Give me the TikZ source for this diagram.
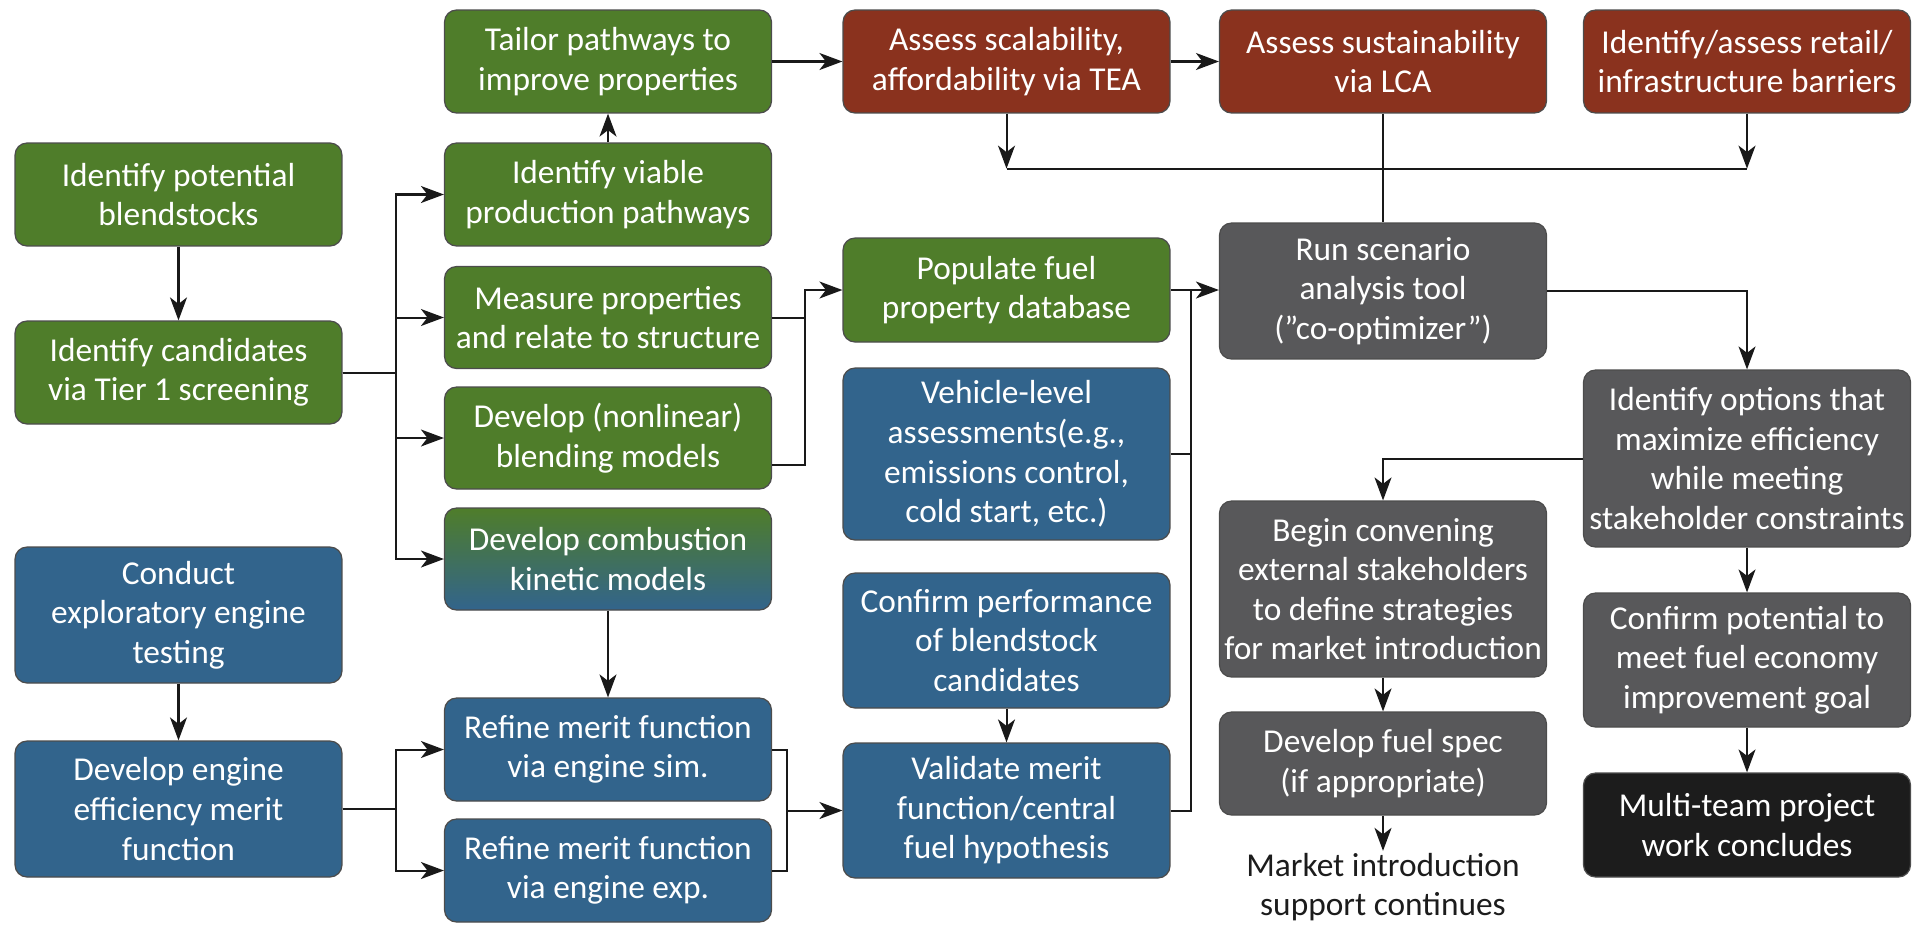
\documentclass[tikz,border=0pt]{standalone}
\usepackage{fontspec}
\setmainfont{Carlito}
\usetikzlibrary{arrows.meta,positioning}
\definecolor{fgreen}{RGB}{79,125,42}
\definecolor{fred}{RGB}{138,50,30}
\definecolor{fblue}{RGB}{50,100,140}
\definecolor{fgray}{RGB}{88,88,90}
\definecolor{fblack}{RGB}{28,28,28}
\tikzset{
  box/.style={draw=black!70, line width=0.7pt, rounded corners=0.24cm,
    minimum width=6.54cm, align=center, text=white, inner sep=1pt,
    font=\fontsize{19}{22.5}\selectfont},
  gbox/.style={box, fill=fgreen},
  rbox/.style={box, fill=fred},
  bbox/.style={box, fill=fblue},
  kbox/.style={box, fill=fgray},
  dbox/.style={box, fill=fblack},
  link/.style={line width=1.15pt, draw=black!90},
  arr/.style={link, -{Stealth[length=0.46cm, width=0.34cm, inset=0.13cm]}}
}
\begin{document}
\begin{tikzpicture}[x=0.02cm, y=-0.02cm]
\useasboundingbox (0,0) rectangle (1915,924);

\node[gbox, minimum height=2.06cm] (pot) at (178.5,194.5) {Identify potential\\blendstocks};
\node[gbox, minimum height=2.06cm] (cand) at (178.5,372.5) {Identify candidates\\via Tier 1 screening};
\node[bbox, minimum height=2.72cm] (conduct) at (178.5,615) {Conduct\\exploratory engine\\testing};
\node[bbox, minimum height=2.72cm] (engine) at (178.5,809) {Develop engine\\efficiency merit\\function};

\node[gbox, minimum height=2.06cm] (tailor) at (608,61.5) {Tailor pathways to\\improve properties};
\node[gbox, minimum height=2.06cm] (viable) at (608,194.5) {Identify viable\\production pathways};
\node[gbox, minimum height=2.04cm] (measure) at (608,317.5) {Measure properties\\and relate to structure};
\node[gbox, minimum height=2.04cm] (nonlin) at (608,438) {Develop (nonlinear)\\blending models};
\node[box, top color=fgreen, bottom color=fblue, minimum height=2.04cm] (comb) at (608,559) {Develop combustion\\kinetic models};
\node[bbox, minimum height=2.06cm] (rsim) at (608,749.5) {Refine merit function\\via engine sim.};
\node[bbox, minimum height=2.06cm] (rexp) at (608,870.5) {Refine merit function\\via engine exp.};

\node[rbox, minimum height=2.06cm] (scal) at (1006.5,61.5) {Assess scalability,\\affordability via TEA};
\node[gbox, minimum height=2.08cm] (pop) at (1006.5,290) {Populate fuel\\property database};
\node[bbox, minimum height=3.44cm] (veh) at (1006.5,454) {Vehicle-level\\assessments(e.g.,\\emissions control,\\cold start, etc.)};
\node[bbox, minimum height=2.7cm] (cperf) at (1006.5,640.5) {Confirm performance\\of blendstock\\candidates};
\node[bbox, minimum height=2.7cm] (valid) at (1006.5,810.5) {Validate merit\\function/central\\fuel hypothesis};

\node[rbox, minimum height=2.06cm] (sust) at (1383,61.5) {Assess sustainability\\via LCA};
\node[kbox, minimum height=2.72cm] (run) at (1383,291) {Run scenario\\analysis tool\\(''co-optimizer'')};
\node[kbox, minimum height=3.52cm] (begin) at (1383,589) {Begin convening\\external stakeholders\\to define strategies\\for market introduction};
\node[kbox, minimum height=2.06cm] (spec) at (1383,763.5) {Develop fuel spec\\(if appropriate)};
\node[align=center, text=fblack, inner sep=1pt, font=\fontsize{19}{22.5}\selectfont] (market) at (1383,887) {Market introduction\\support continues};

\node[rbox, minimum height=2.06cm] (retail) at (1747,61.5) {Identify/assess retail/\\infrastructure barriers};
\node[kbox, minimum height=3.54cm] (options) at (1747,458.5) {Identify options that\\maximize efficiency\\while meeting\\stakeholder constraints};
\node[kbox, minimum height=2.68cm] (cpot) at (1747,660) {Confirm potential to\\meet fuel economy\\improvement goal};
\node[dbox, minimum height=2.08cm] (multi) at (1747,825) {Multi-team project\\work concludes};

\draw[arr] (pot) -- (cand);
\draw[arr] (cand.east) -- ++(53,0) |- (viable.west);
\draw[arr] (cand.east) -- ++(53,0) |- (measure.west);
\draw[arr] (cand.east) -- ++(53,0) |- (nonlin.west);
\draw[arr] (cand.east) -- ++(53,0) |- (comb.west);
\draw[arr] (viable) -- (tailor);
\draw[arr] (tailor) -- (scal);
\draw[arr] (scal) -- (sust);
\draw[arr] (measure.east) -- ++(33,0) |- (pop.west);
\draw[link] ([yshift=-0.54cm]nonlin.east) -- ++(33,0) |- (measure.east);
\draw[arr] (pop.east) -- (pop.east -| run.west);
\draw[link] (valid.east) -- ++(20,0) |- (pop.east);
\draw[link] (veh.east) -- ++(20,0);
\draw[arr] (scal.south) -- ++(0,55) coordinate (jl);
\draw[arr] (retail.south) -- ++(0,55) coordinate (jr);
\draw[link] (jl) -- (jr);
\draw[link] (sust) -- (run);
\draw[arr] (run.east) -| (options.north);
\draw[arr] (options.west) -| (begin.north);
\draw[arr] (options) -- (cpot);
\draw[arr] (cpot) -- (multi);
\draw[arr] (begin) -- (spec);
\draw[arr] (spec) -- (market);
\draw[arr] (comb) -- (rsim);
\draw[arr] (conduct) -- (engine);
\draw[arr] (engine.east) -- ++(53,0) |- (rsim.west);
\draw[arr] (engine.east) -- ++(53,0) |- (rexp.west);
\draw[link] (rsim.east) -- ++(15,0) |- (rexp.east);
\draw[arr] (rsim.east) -- ++(15,0) |- (valid.west);
\draw[arr] (cperf) -- (valid);
\end{tikzpicture}
\end{document}
